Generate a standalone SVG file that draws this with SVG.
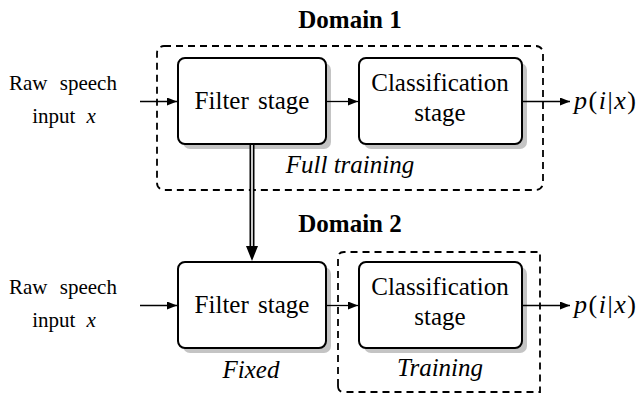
<svg xmlns="http://www.w3.org/2000/svg" width="639" height="394" viewBox="0 0 639 394">
<style>
.box{fill:#fff;stroke:#000;stroke-width:2}
.shadow{fill:#c4c4c4}
.dash{fill:none;stroke:#000;stroke-width:1.8;stroke-dasharray:7,5}
text{font-family:"Liberation Serif",serif;fill:#000}
.big{font-size:25px}
.small{font-size:21px}
.math{font-size:26px;letter-spacing:1.5px}
.it{font-style:italic}
.conn{stroke:#000;stroke-width:1.3;fill:none}
</style>
<defs>
<marker id="ah" viewBox="0 0 10 8" refX="10" refY="4" markerWidth="10" markerHeight="8" markerUnits="userSpaceOnUse" orient="auto">
<path d="M0,0 L10,4 L0,8 Z" fill="#000"/>
</marker>
</defs>
<rect width="639" height="394" fill="#fff"/>

<g id="domain1">
<text class="big" x="350" y="28" text-anchor="middle" font-weight="bold">Domain 1</text>
<rect class="dash" x="157" y="46" width="386" height="144" rx="7"/>
<text class="big it" x="350" y="173" text-anchor="middle">Full training</text>
</g>

<g id="domain2">
<text class="big" x="350" y="232" text-anchor="middle" font-weight="bold">Domain 2</text>
<path class="dash" d="M338,386 L338,258 Q338,252 344,252 L540,252 L540,392 L344,392 Q338,392 338,386"/>
<text class="big it" x="251" y="378" text-anchor="middle">Fixed</text>
<text class="big it" x="440" y="376" text-anchor="middle">Training</text>
</g>

<g id="input1">
<text class="small" x="63" y="90" text-anchor="middle" word-spacing="7">Raw speech</text>
<text class="small" x="64" y="123" text-anchor="middle" word-spacing="6">input <tspan class="it">x</tspan></text>
</g>
<g id="input2">
<text class="small" x="63" y="294" text-anchor="middle" word-spacing="7">Raw speech</text>
<text class="small" x="64" y="327" text-anchor="middle" word-spacing="6">input <tspan class="it">x</tspan></text>
</g>

<g id="filter1">
<rect class="shadow" x="183" y="63" width="148" height="86" rx="7"/>
<rect class="box" x="178" y="58" width="148" height="86" rx="7"/>
<text class="big" x="252" y="109" text-anchor="middle" word-spacing="3">Filter stage</text>
</g>
<g id="class1">
<rect class="shadow" x="364" y="63" width="163" height="86" rx="7"/>
<rect class="box" x="359" y="58" width="163" height="86" rx="7"/>
<text class="big" x="440" y="91" text-anchor="middle">Classification</text>
<text class="big" x="440" y="121" text-anchor="middle">stage</text>
</g>
<g id="filter2">
<rect class="shadow" x="183" y="267" width="148" height="86" rx="7"/>
<rect class="box" x="178" y="262" width="148" height="86" rx="7"/>
<text class="big" x="252" y="313" text-anchor="middle" word-spacing="3">Filter stage</text>
</g>
<g id="class2">
<rect class="shadow" x="364" y="267" width="163" height="86" rx="7"/>
<rect class="box" x="359" y="262" width="163" height="86" rx="7"/>
<text class="big" x="440" y="295" text-anchor="middle">Classification</text>
<text class="big" x="440" y="325" text-anchor="middle">stage</text>
</g>

<g id="out1">
<text class="math" x="574" y="109"><tspan class="it">p</tspan>(<tspan class="it">i</tspan>|<tspan class="it">x</tspan>)</text>
</g>
<g id="out2">
<text class="math" x="574" y="313"><tspan class="it">p</tspan>(<tspan class="it">i</tspan>|<tspan class="it">x</tspan>)</text>
</g>

<g id="connectors">
<line class="conn" x1="140" y1="101.5" x2="177" y2="101.5" marker-end="url(#ah)"/>
<line class="conn" x1="327" y1="101.5" x2="358" y2="101.5" marker-end="url(#ah)"/>
<line class="conn" x1="523" y1="101.5" x2="570" y2="101.5" marker-end="url(#ah)"/>
<line class="conn" x1="140" y1="305.5" x2="177" y2="305.5" marker-end="url(#ah)"/>
<line class="conn" x1="327" y1="305.5" x2="358" y2="305.5" marker-end="url(#ah)"/>
<line class="conn" x1="523" y1="305.5" x2="570" y2="305.5" marker-end="url(#ah)"/>
<line x1="252" y1="145" x2="252" y2="250" stroke="#000" stroke-width="5"/>
<line x1="252" y1="145" x2="252" y2="251" stroke="#fff" stroke-width="1.6"/>
<path d="M246,246 L252,261 L258,246 Z" fill="#000"/>
</g>
</svg>
